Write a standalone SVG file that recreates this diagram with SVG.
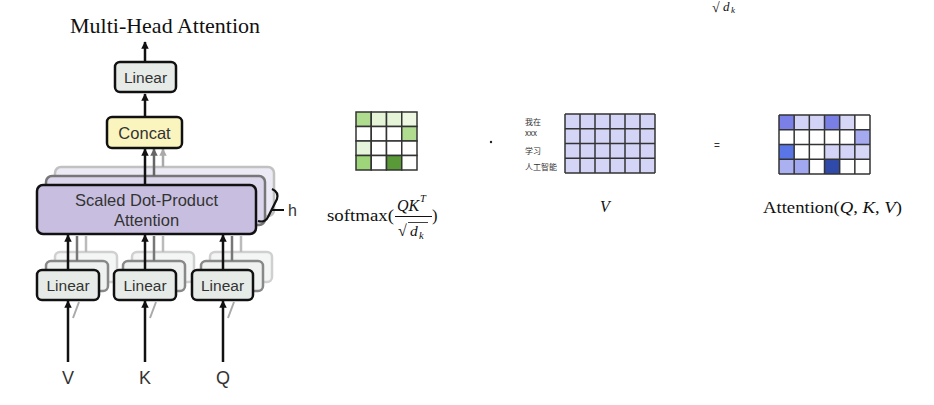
<svg xmlns="http://www.w3.org/2000/svg" width="934" height="405" viewBox="0 0 934 405">
<defs>
<style>
.sans{font-family:"Liberation Sans",Arial,sans-serif;fill:#333}
.serif{font-family:"Liberation Serif","Times New Roman",serif;fill:#111}
.box{stroke:#111;stroke-width:2.5}
.lin{fill:#e6ebe8}
.arr{stroke:#111;stroke-width:2.5;fill:none}
.cell{stroke:#333;stroke-width:1.5}
.cjk{font-family:"Noto Sans CJK SC","Noto Sans CJK JP",sans-serif;font-size:8px;fill:#333}
</style>
<marker id="ah" viewBox="0 0 10 10" refX="9" refY="5" markerWidth="3" markerHeight="3.2" orient="auto" markerUnits="strokeWidth"><path d="M0,0 L10,5 L0,10 z" fill="#111"/></marker>
<marker id="ahg" viewBox="0 0 10 10" refX="9" refY="5" markerWidth="3" markerHeight="3.2" orient="auto" markerUnits="strokeWidth"><path d="M0,0 L10,5 L0,10 z" fill="#666"/></marker>
<marker id="ahl" viewBox="0 0 10 10" refX="9" refY="5" markerWidth="3" markerHeight="3.2" orient="auto" markerUnits="strokeWidth"><path d="M0,0 L10,5 L0,10 z" fill="#aaa"/></marker>
</defs>
<rect width="934" height="405" fill="#fff"/>

<text id="title" class="serif" x="165" y="33" font-size="22" text-anchor="middle">Multi-Head Attention</text>

<!-- back layers -->
<g id="layer3" opacity="0.9">
  <rect x="55" y="167" width="219" height="49" rx="6" fill="#ebe8f3" stroke="#bbb" stroke-width="2.5"/>
  <rect x="55" y="252" width="62" height="30" rx="5" fill="#f3f5f4" stroke="#ccc" stroke-width="2.5"/>
  <rect x="132" y="252" width="62" height="30" rx="5" fill="#f3f5f4" stroke="#ccc" stroke-width="2.5"/>
  <rect x="210" y="252" width="62" height="30" rx="5" fill="#f3f5f4" stroke="#ccc" stroke-width="2.5"/>
</g>
<g id="layer2">
  <rect x="46" y="176" width="219" height="49" rx="6" fill="#dcd6ec" stroke="#777" stroke-width="2.5"/>
  <rect x="46" y="261" width="62" height="30" rx="5" fill="#eef1ef" stroke="#888" stroke-width="2.5"/>
  <rect x="123" y="261" width="62" height="30" rx="5" fill="#eef1ef" stroke="#888" stroke-width="2.5"/>
  <rect x="201" y="261" width="62" height="30" rx="5" fill="#eef1ef" stroke="#888" stroke-width="2.5"/>
</g>

<g id="connectors">
  <path d="M86 252 V236 M163 252 V236 M241 252 V236" stroke="#bbb" stroke-width="2.5"/>
  <path d="M77 261 V236 M154 261 V236 M232 261 V236" stroke="#777" stroke-width="2.5"/>
  <path d="M79 302 L73 318 M156 302 L150 318 M234 302 L228 318" stroke="#aaa" stroke-width="2"/>
  <line x1="163" y1="167" x2="163" y2="149" stroke="#aaa" stroke-width="2.5" marker-end="url(#ahl)"/>
  <line x1="154" y1="176" x2="154" y2="149" stroke="#666" stroke-width="2.5" marker-end="url(#ahg)"/>
  <line class="arr" x1="145" y1="62" x2="145" y2="42" marker-end="url(#ah)"/>
  <line class="arr" x1="145" y1="117" x2="145" y2="94" marker-end="url(#ah)"/>
  <line class="arr" x1="145" y1="185" x2="145" y2="149" marker-end="url(#ah)"/>
  <line class="arr" x1="68" y1="270" x2="68" y2="235" marker-end="url(#ah)"/>
  <line class="arr" x1="145" y1="270" x2="145" y2="235" marker-end="url(#ah)"/>
  <line class="arr" x1="223" y1="270" x2="223" y2="235" marker-end="url(#ah)"/>
  <line class="arr" x1="68" y1="362" x2="68" y2="301" marker-end="url(#ah)"/>
  <line class="arr" x1="145" y1="362" x2="145" y2="301" marker-end="url(#ah)"/>
  <line class="arr" x1="223" y1="362" x2="223" y2="301" marker-end="url(#ah)"/>
</g>

<g id="linear-top">
  <rect class="box lin" x="115" y="62" width="61" height="30" rx="5"/>
  <text class="sans" x="145.5" y="83" font-size="15.5" text-anchor="middle">Linear</text>
</g>
<g id="concat">
  <rect class="box" x="107" y="117" width="75" height="31" rx="5" fill="#faf5bf"/>
  <text class="sans" x="144.5" y="138.5" font-size="16.5" text-anchor="middle">Concat</text>
</g>
<g id="sdpa">
  <rect class="box" x="37" y="185" width="219" height="49" rx="6" fill="#c8bfe0"/>
  <text class="sans" x="146.5" y="206" font-size="16.5" text-anchor="middle">Scaled Dot-Product</text>
  <text class="sans" x="146.5" y="226" font-size="16.5" text-anchor="middle">Attention</text>
</g>
<g id="brace">
  <path d="M272 189 Q279 192 277 199 L268 217 Q265 223 258 221" fill="none" stroke="#111" stroke-width="2.2"/>
  <line x1="272" y1="210" x2="284" y2="210" stroke="#111" stroke-width="2"/>
  <text class="sans" x="288" y="216" font-size="16">h</text>
</g>
<g id="linear-v">
  <rect class="box lin" x="37" y="270" width="62" height="30" rx="5"/>
  <text class="sans" x="68" y="291" font-size="15.5" text-anchor="middle">Linear</text>
</g>
<g id="linear-k">
  <rect class="box lin" x="114" y="270" width="62" height="30" rx="5"/>
  <text class="sans" x="145" y="291" font-size="15.5" text-anchor="middle">Linear</text>
</g>
<g id="linear-q">
  <rect class="box lin" x="192" y="270" width="61" height="30" rx="5"/>
  <text class="sans" x="222.5" y="291" font-size="15.5" text-anchor="middle">Linear</text>
</g>
<g id="inputs">
  <text class="sans" x="68" y="384" font-size="18" text-anchor="middle">V</text>
  <text class="sans" x="145" y="384" font-size="18" text-anchor="middle">K</text>
  <text class="sans" x="223" y="384" font-size="18" text-anchor="middle">Q</text>
</g>

<g id="topcut">
  <text class="serif" x="712" y="12" font-size="14">√</text>
  <text class="serif" x="723" y="11" font-size="13" font-style="italic">d</text>
  <text class="serif" x="731" y="13" font-size="9" font-style="italic">k</text>
</g>

<g id="softmax-matrix">
  <rect class="cell" x="356" y="112" width="15.25" height="14.5" fill="#b0dc90"/>
  <rect class="cell" x="371.25" y="112" width="15.25" height="14.5" fill="#e5f3d6"/>
  <rect class="cell" x="386.5" y="112" width="15.25" height="14.5" fill="#e5f3d6"/>
  <rect class="cell" x="401.75" y="112" width="15.25" height="14.5" fill="#eef7e2"/>
  <rect class="cell" x="356" y="126.5" width="15.25" height="14.5" fill="#fff"/>
  <rect class="cell" x="371.25" y="126.5" width="15.25" height="14.5" fill="#fff"/>
  <rect class="cell" x="386.5" y="126.5" width="15.25" height="14.5" fill="#fff"/>
  <rect class="cell" x="401.75" y="126.5" width="15.25" height="14.5" fill="#b0dc90"/>
  <rect class="cell" x="356" y="141" width="15.25" height="14.5" fill="#e6f4dc"/>
  <rect class="cell" x="371.25" y="141" width="15.25" height="14.5" fill="#fff"/>
  <rect class="cell" x="386.5" y="141" width="15.25" height="14.5" fill="#fff"/>
  <rect class="cell" x="401.75" y="141" width="15.25" height="14.5" fill="#fff"/>
  <rect class="cell" x="356" y="155.5" width="15.25" height="14.5" fill="#9ed57a"/>
  <rect class="cell" x="371.25" y="155.5" width="15.25" height="14.5" fill="#fff"/>
  <rect class="cell" x="386.5" y="155.5" width="15.25" height="14.5" fill="#5a9938"/>
  <rect class="cell" x="401.75" y="155.5" width="15.25" height="14.5" fill="#fff"/>
</g>
<g id="softmax-label">
  <text class="serif" x="327" y="221" font-size="16.5" textLength="67" lengthAdjust="spacingAndGlyphs">softmax(</text>
  <text class="serif" x="397" y="211" font-size="16" font-style="italic">QK</text>
  <text class="serif" x="420" y="202" font-size="10.5" font-style="italic">T</text>
  <line x1="395" y1="216.5" x2="432" y2="216.5" stroke="#111" stroke-width="1"/>
  <text class="serif" x="398" y="236" font-size="16">√</text>
  <line x1="408" y1="222.5" x2="428" y2="222.5" stroke="#111" stroke-width="0.8"/>
  <text class="serif" x="410" y="236" font-size="15.5" font-style="italic">d</text>
  <text class="serif" x="419" y="239" font-size="10.5" font-style="italic">k</text>
  <text class="serif" x="432" y="221" font-size="16.5">)</text>
</g>

<circle id="dot" cx="491" cy="142" r="1.2" fill="#222"/>

<g id="v-labels">
  <text class="cjk" x="525" y="125">我在</text>
  <text class="cjk" x="525" y="136">xxx</text>
  <text class="cjk" x="525" y="154">学习</text>
  <text class="cjk" x="525" y="170">人工智能</text>
</g>
<g id="v-matrix">
  <rect x="565" y="114" width="90" height="59" fill="#d4d4f7"/>
  <path d="M565 114 H655 M565 128.75 H655 M565 143.5 H655 M565 158.25 H655 M565 173 H655 M565 114 V173 M580 114 V173 M595 114 V173 M610 114 V173 M625 114 V173 M640 114 V173 M655 114 V173" stroke="#333" stroke-width="1.5" fill="none"/>
</g>
<text id="v-label" class="serif" x="605" y="212" font-size="16" font-style="italic" text-anchor="middle">V</text>

<text id="equals" class="sans" x="717" y="149" font-size="10" text-anchor="middle">=</text>

<g id="attn-matrix">
  <rect x="779" y="115" width="15.17" height="14.75" fill="#7b7fe8"/>
  <rect x="794.17" y="115" width="15.17" height="14.75" fill="#d2d3f6"/>
  <rect x="809.33" y="115" width="15.17" height="14.75" fill="#d2d3f6"/>
  <rect x="824.5" y="115" width="15.17" height="14.75" fill="#7a7fe6"/>
  <rect x="839.67" y="115" width="15.17" height="14.75" fill="#d6d7f7"/>
  <rect x="854.83" y="115" width="15.17" height="14.75" fill="#fff"/>
  <rect x="779" y="129.75" width="91" height="14.75" fill="#fff"/>
  <rect x="854.83" y="129.75" width="15.17" height="14.75" fill="#a4a9f0"/>
  <rect x="779" y="144.5" width="15.17" height="14.75" fill="#5a76e6"/>
  <rect x="794.17" y="144.5" width="30.33" height="14.75" fill="#fff"/>
  <rect x="824.5" y="144.5" width="15.17" height="14.75" fill="#d2d3f6"/>
  <rect x="839.67" y="144.5" width="15.17" height="14.75" fill="#d2d3f6"/>
  <rect x="854.83" y="144.5" width="15.17" height="14.75" fill="#d6d7f7"/>
  <rect x="779" y="159.25" width="15.17" height="14.75" fill="#aab0f0"/>
  <rect x="794.17" y="159.25" width="15.17" height="14.75" fill="#a2a8ef"/>
  <rect x="809.33" y="159.25" width="15.17" height="14.75" fill="#fff"/>
  <rect x="824.5" y="159.25" width="15.17" height="14.75" fill="#2f4aa8"/>
  <rect x="839.67" y="159.25" width="30.33" height="14.75" fill="#fff"/>
  <path d="M779 115 H870 M779 129.75 H870 M779 144.5 H870 M779 159.25 H870 M779 174 H870 M779 115 V174 M794.17 115 V174 M809.33 115 V174 M824.5 115 V174 M839.67 115 V174 M854.83 115 V174 M870 115 V174" stroke="#333" stroke-width="1.5" fill="none"/>
</g>
<g id="attn-label">
  <text class="serif" x="763" y="213" font-size="16.5" textLength="139" lengthAdjust="spacingAndGlyphs">Attention(<tspan font-style="italic">Q</tspan>, <tspan font-style="italic">K</tspan>, <tspan font-style="italic">V</tspan>)</text>
</g>
</svg>
